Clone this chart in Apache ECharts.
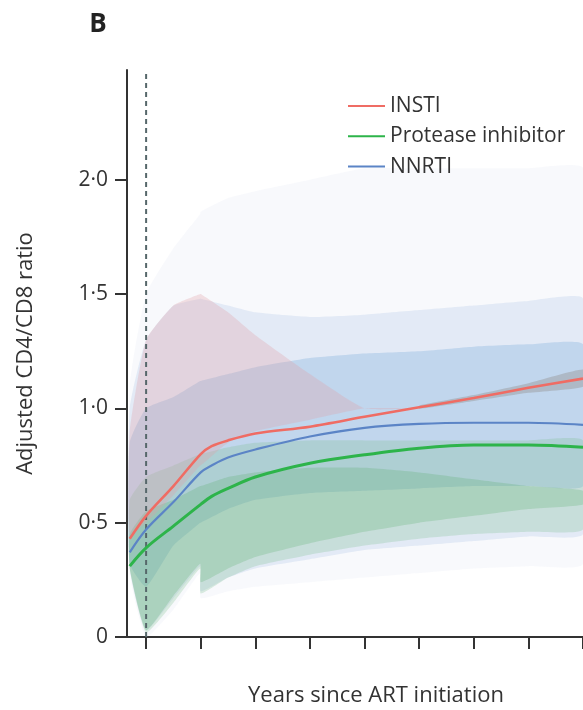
<!DOCTYPE html>
<html>
<head>
<meta charset="utf-8">
<script src="https://cdn.jsdelivr.net/npm/echarts@6/dist/echarts.min.js"></script>
<style>html,body{margin:0;padding:0;background:#fff}#c{width:583px;height:710px}</style>
</head>
<body>
<div id="c"></div>
<script>
// ---- tick labels ----
const yTicks = [0, 0.5, 1.0, 1.5, 2.0];
const xTicks = [0, 1, 2, 3, 4, 5, 6, 7, 8];

// ---- ART initiation reference line ----
const artStartX = [0, 0];
const artStartY = [0, 2.48];

// ---- fitted trajectories ----
const xLine = [-0.3, 0, 0.5, 1, 1.2, 1.5, 2, 3, 4, 5, 6, 7, 8];
const insti = [0.43, 0.53, 0.66, 0.80, 0.835, 0.86, 0.89, 0.92, 0.963, 1.005, 1.045, 1.09, 1.13];
const protease = [0.31, 0.39, 0.485, 0.58, 0.615, 0.65, 0.70, 0.76, 0.797, 0.826, 0.84, 0.84, 0.83];
const nnrti = [0.37, 0.47, 0.59, 0.72, 0.75, 0.785, 0.82, 0.877, 0.915, 0.932, 0.937, 0.937, 0.928];

// ---- confidence band of INSTI at late follow-up ----
const xCI = [5, 6, 7, 8];
const ciLow = [0.998, 1.032, 1.068, 1.095];
const ciHigh = [1.012, 1.058, 1.11, 1.17];

// ---- scatter cloud envelopes ----
const xCloud = [-0.3, 0, 0.5, 0.99, 1.0, 1.5, 2, 3, 4, 5, 6, 7, 8];
const hazeLow  = [0.28, 0.00, 0.12, 0.28, 0.17, 0.20, 0.22, 0.24, 0.26, 0.28, 0.30, 0.31, 0.32];
const hazeHigh = [1.10, 1.50, 1.70, 1.85, 1.86, 1.92, 1.95, 2.00, 2.05, 2.05, 2.05, 2.05, 2.05];
const midLow   = [0.30, 0.03, 0.17, 0.31, 0.20, 0.26, 0.30, 0.34, 0.38, 0.40, 0.42, 0.44, 0.45];
const midHigh  = [1.00, 1.30, 1.45, 1.48, 1.48, 1.45, 1.42, 1.40, 1.41, 1.43, 1.45, 1.47, 1.48];
const blueLow  = [0.32, 0.22, 0.40, 0.50, 0.50, 0.56, 0.60, 0.63, 0.64, 0.65, 0.66, 0.66, 0.66];
const blueHigh = [0.85, 1.00, 1.05, 1.12, 1.12, 1.15, 1.18, 1.22, 1.24, 1.25, 1.27, 1.28, 1.28];
const greenLow = [0.30, 0.02, 0.15, 0.30, 0.19, 0.26, 0.31, 0.36, 0.40, 0.43, 0.45, 0.46, 0.47];
const greenHigh= [0.60, 0.70, 0.75, 0.80, 0.80, 0.83, 0.85, 0.86, 0.86, 0.86, 0.86, 0.86, 0.86];
const gCoreLow = [0.30, 0.03, 0.18, 0.32, 0.24, 0.30, 0.35, 0.41, 0.46, 0.50, 0.53, 0.56, 0.58];
const gCoreHigh= [0.45, 0.55, 0.60, 0.66, 0.66, 0.70, 0.72, 0.74, 0.74, 0.72, 0.69, 0.66, 0.64];
const pinkLow  = [0.45, 0.50, 0.62, 0.75, 0.75, 0.85, 0.90, 0.95, 1.00, 1.00, 1.00, 1.00, 1.00];
const pinkHigh = [0.90, 1.30, 1.45, 1.50, 1.50, 1.42, 1.32, 1.15, 1.00, 1.00, 1.00, 1.00, 1.00];

const FONT = '"Open Sans", "Noto Sans", sans-serif';

// band drawn as one polygon through the chart's own scales (api.coord)
function band(xs, lo, hi, color, z) {
  return {
    type: 'custom', silent: true, z: z, clip: true,
    data: xs.map((x, i) => [x, lo[i], hi[i]]),
    encode: { x: 0, y: [1, 2] },
    renderItem: function (params, api) {
      if (params.dataIndex !== 0) return null;
      const pts = [];
      for (let i = 0; i < xs.length; i++) pts.push(api.coord([xs[i], hi[i]]));
      for (let i = xs.length - 1; i >= 0; i--) pts.push(api.coord([xs[i], lo[i]]));
      return {
        type: 'polygon',
        shape: { points: pts, smooth: 0.15 },
        style: { fill: color }
      };
    }
  };
}

// dashed vertical reference line, positioned with api.coord
function refLine(xs, ys, z) {
  return {
    type: 'custom', silent: true, z: z, clip: true,
    data: xs.map((x, i) => [x, ys[i]]),
    encode: { x: 0, y: 1 },
    renderItem: function (params, api) {
      if (params.dataIndex !== 0) return null;
      const a = api.coord([xs[0], ys[0]]);
      const b = api.coord([xs[1], ys[1]]);
      return {
        type: 'line',
        shape: { x1: a[0], y1: a[1], x2: b[0], y2: b[1] },
        style: { stroke: '#56676a', lineWidth: 2, lineDash: [5, 4], fill: null }
      };
    }
  };
}

function fmtY(v) {
  return v === 0 ? '0' : v.toFixed(1).replace('.', '\u00B7');
}

const series = [
  band(xCloud, hazeLow, hazeHigh, 'rgba(200,210,232,0.13)', 1),
  band(xCloud, midLow, midHigh, 'rgba(172,196,230,0.28)', 1),
  band(xCloud, blueLow, blueHigh, 'rgba(125,172,220,0.33)', 1),
  band(xCloud, greenLow, greenHigh, 'rgba(120,190,140,0.26)', 1),
  band(xCloud, gCoreLow, gCoreHigh, 'rgba(85,172,100,0.24)', 1),
  band(xCloud, pinkLow, pinkHigh, 'rgba(225,160,165,0.30)', 1),
  band(xCI, ciLow, ciHigh, 'rgba(150,150,150,0.45)', 2),
  refLine(artStartX, artStartY, 4),
  { name: 'NNRTI', type: 'line', symbol: 'none', smooth: 0.35, z: 5,
    lineStyle: { color: '#5b84c6', width: 2.2 }, itemStyle: { color: '#5b84c6' },
    data: xLine.map((x, i) => [x, nnrti[i]]) },
  { name: 'Protease inhibitor', type: 'line', symbol: 'none', smooth: 0.35, z: 6,
    lineStyle: { color: '#2db44a', width: 3 }, itemStyle: { color: '#2db44a' },
    data: xLine.map((x, i) => [x, protease[i]]) },
  { name: 'INSTI', type: 'line', symbol: 'none', smooth: 0.3, z: 7,
    lineStyle: { color: '#ef6c64', width: 2.6 }, itemStyle: { color: '#ef6c64' },
    data: xLine.map((x, i) => [x, insti[i]]) }
];

const chart = echarts.init(document.getElementById('c'), null, { renderer: 'canvas' });
chart.setOption({
  animation: false,
  backgroundColor: '#ffffff',
  textStyle: { fontFamily: FONT },
  grid: { left: 127, right: 0, top: 70, bottom: 73, containLabel: false },
  legend: {
    data: ['INSTI', 'Protease inhibitor', 'NNRTI'],
    orient: 'vertical', left: 343, top: 89,
    icon: 'rect', itemWidth: 37, itemHeight: 2, itemGap: 6.3,
    textStyle: { fontFamily: FONT, fontSize: 21, color: '#333', lineHeight: 24 }
  },
  xAxis: {
    type: 'value', min: -0.35, max: 8,
    axisLine: { show: true, onZero: false, lineStyle: { color: '#333', width: 2 } },
    axisTick: { show: true, length: 12, lineStyle: { color: '#333', width: 2 }, customValues: xTicks },
    axisLabel: { show: false },
    splitLine: { show: false }
  },
  yAxis: {
    type: 'value', min: 0, max: 2.48,
    name: 'Adjusted CD4/CD8 ratio', nameLocation: 'middle', nameGap: 90,
    nameTextStyle: { fontFamily: FONT, fontSize: 22, color: '#333' },
    axisLine: { show: true, onZero: false, lineStyle: { color: '#333', width: 2 } },
    axisTick: { show: true, length: 12, lineStyle: { color: '#333', width: 2 }, customValues: yTicks },
    axisLabel: { customValues: yTicks, formatter: fmtY, margin: 19, fontFamily: FONT, fontSize: 21, color: '#333' },
    splitLine: { show: false }
  },
  graphic: [
    { type: 'text', x: 98, y: 25, style: { text: 'B', font: 'bold 26px ' + FONT, fill: '#222', align: 'center', verticalAlign: 'middle' } },
    { type: 'text', x: 376, y: 696, style: { text: 'Years since ART initiation', font: '22px ' + FONT, fill: '#333', align: 'center', verticalAlign: 'middle' } }
  ],
  series: series
});
</script>
</body>
</html>
